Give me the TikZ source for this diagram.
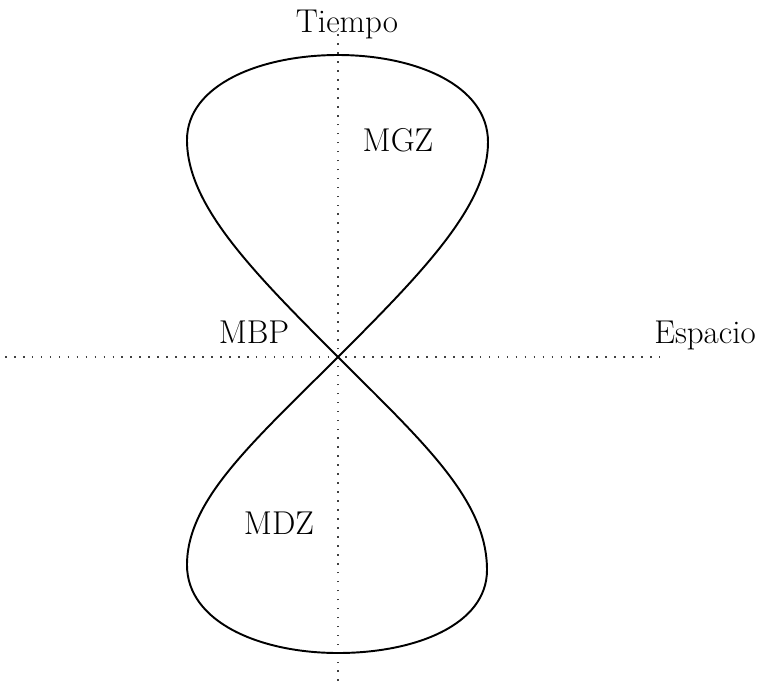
\documentclass[tikz,border=0pt]{standalone}
\usepackage{tikz}
\usetikzlibrary{positioning}

\begin{document}
\begin{tikzpicture}[x=0.02cm, y=-0.02cm,
    axis/.style={black!75, line width=0.8pt, dash pattern=on 0.9pt off 4.2pt},
    lobe/.style={black, line width=1.1pt, line join=round},
    lbl/.style={font=\fontsize{18.8}{22}\selectfont, anchor=base, inner sep=0pt}]
    \useasboundingbox (0,0) rectangle (762,681);

    % axes
    \coordinate (o) at (338,357);
    \coordinate (ytop) at (338,33);
    \coordinate (ybot) at (338,681);
    \coordinate (xleft) at (5,357);
    \coordinate (xright) at (660,357);
    \draw[axis] (ybot) -- (ytop);
    \draw[axis] (xleft) -- (xright);

    % figure eight
    \draw[lobe] (o) .. controls (252,271) and (187,205) .. (187,140)
        .. controls (187,85) and (260,55) .. (338,55)
        .. controls (415,55) and (488,85) .. (488,142)
        .. controls (488,205) and (424,271) .. (o)
        .. controls (252,443) and (187,500) .. (187,565)
        .. controls (187,622) and (260,653) .. (338,653)
        .. controls (415,653) and (487,625) .. (487,570)
        .. controls (487,500) and (424,443) .. (o);

    % labels
    \node[lbl] (tiempo) at (347,32) {Tiempo};
    \node[lbl] (espacio) at (705,343) {Espacio};
    \node[lbl] (mbp) at (254,343) {MBP};
    \node[lbl] (mgz) at (398,151) {MGZ};
    \node[lbl] (mdz) at (279,534) {MDZ};
\end{tikzpicture}
\end{document}
